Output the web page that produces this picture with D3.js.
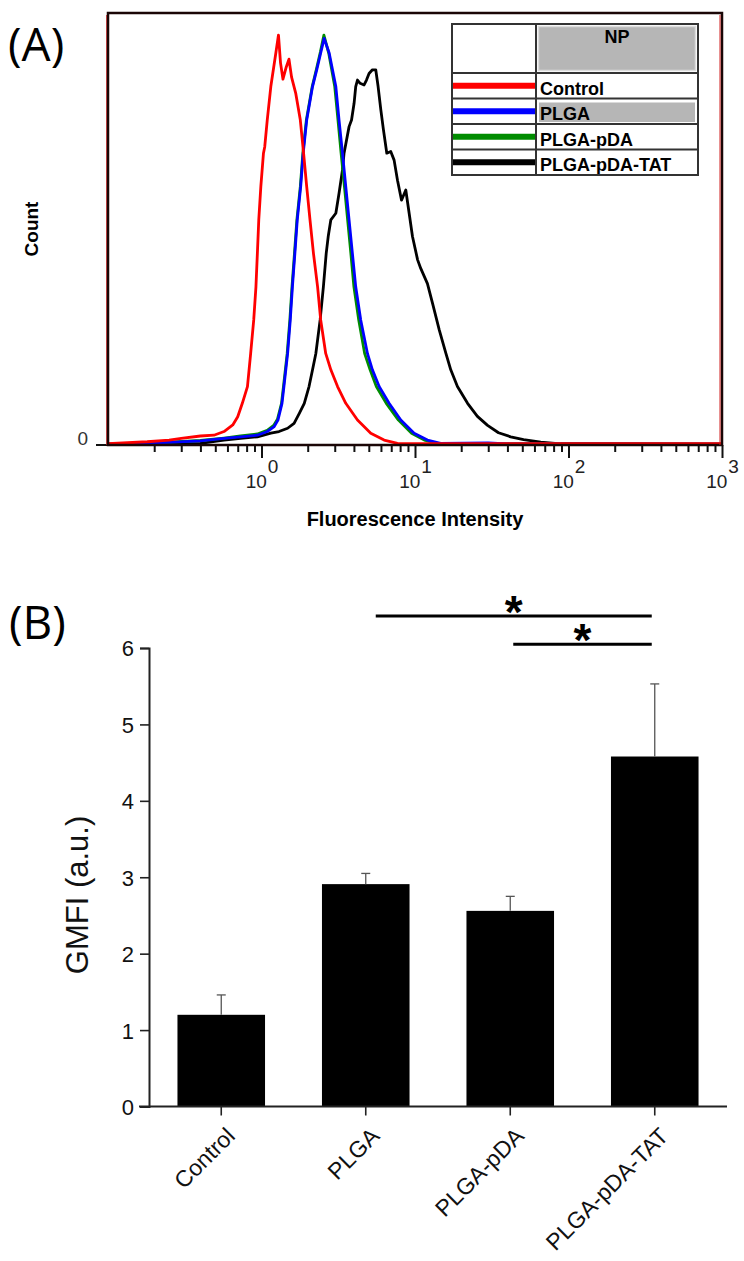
<!DOCTYPE html>
<html><head><meta charset="utf-8">
<script src="https://cdn.jsdelivr.net/npm/d3@7"></script>
<style>body{margin:0;background:#fff} svg{display:block} text{font-family:"Liberation Sans",Arial,sans-serif}</style>
</head><body>
<svg id="chart" width="744" height="1261"></svg>
<script>
// ---------- Panel A data: flow cytometry histograms [intensity, count] ----------
const seriesNames = ["Control", "PLGA", "PLGA-pDA", "PLGA-pDA-TAT"];
const seriesColors = ["#ff0000", "#0000ff", "#008c00", "#000000"];
const histControl = [[0.1,0.3],[0.18,0.8],[0.25,1.2],[0.3,1.6],[0.4,2.2],[0.49,2.4],[0.57,3.3],[0.65,4.9],[0.70,6.9],[0.75,10.2],[0.81,14.3],[0.85,22.4],[0.89,30.6],[0.92,38.7],[0.94,46.9],[0.96,55.1],[0.99,63.2],[1.03,71.4],[1.05,73.0],[1.09,79.5],[1.15,87.7],[1.24,95.9],[1.29,100.3],[1.33,93.5],[1.38,89.5],[1.45,92.5],[1.51,94.4],[1.57,90.0],[1.67,86.1],[1.79,79.5],[1.88,71.4],[1.97,63.2],[2.07,55.1],[2.18,46.9],[2.32,38.7],[2.43,30.6],[2.62,22.4],[2.83,18.4],[3.13,14.3],[3.54,10.2],[4.22,6.1],[5.15,2.9],[6.29,1.2],[7.69,0.4],[20,0.3],[1000,0.3]];
const histPLGA = [[0.1,0.2],[0.18,0.4],[0.4,1.0],[0.57,1.6],[0.73,2.0],[0.94,2.4],[1.09,3.3],[1.21,4.5],[1.28,6.1],[1.36,10.2],[1.40,14.3],[1.48,22.4],[1.54,30.6],[1.59,38.7],[1.65,46.9],[1.71,55.1],[1.80,63.2],[1.87,71.4],[1.97,79.5],[2.15,87.7],[2.29,91.8],[2.43,95.9],[2.56,99.5],[2.76,95.9],[3.05,87.7],[3.20,79.5],[3.37,71.4],[3.54,63.2],[3.72,55.1],[3.91,46.9],[4.11,38.7],[4.43,30.6],[4.90,22.4],[5.28,18.4],[5.84,14.3],[6.78,10.2],[8.08,6.1],[9.87,2.9],[12.05,1.2],[14.7,0.4],[30,0.5],[40,0.3],[1000,0.2]];
const histPLGApDA = [[0.1,0.2],[0.18,0.4],[0.4,1.1],[0.57,1.7],[0.73,2.2],[0.94,2.7],[1.09,3.6],[1.20,4.8],[1.27,6.3],[1.35,10.2],[1.39,14.3],[1.47,22.4],[1.53,30.6],[1.58,38.7],[1.64,46.9],[1.70,55.1],[1.79,63.2],[1.86,71.4],[1.96,79.5],[2.14,87.7],[2.28,92.0],[2.42,96.2],[2.55,100.3],[2.74,95.9],[3.00,87.7],[3.15,79.5],[3.30,71.4],[3.47,63.2],[3.64,55.1],[3.82,46.9],[4.00,38.7],[4.30,30.6],[4.70,22.4],[5.10,18.4],[5.60,14.3],[6.50,10.2],[7.80,6.1],[9.50,2.9],[11.5,1.2],[14.0,0.4],[1000,0.2]];
const histTAT = [[0.1,0.2],[0.4,0.4],[0.57,1.2],[0.73,1.6],[0.94,2.0],[1.15,2.9],[1.30,3.3],[1.48,4.1],[1.63,5.3],[1.76,7.7],[1.90,10.2],[2.04,14.3],[2.15,18.4],[2.26,22.4],[2.41,30.6],[2.53,38.7],[2.64,46.9],[2.72,51.0],[2.83,55.1],[3.05,56.7],[3.20,61.6],[3.37,67.3],[3.45,71.4],[3.72,77.9],[3.86,79.5],[4.01,83.6],[4.11,87.7],[4.22,89.3],[4.39,88.5],[4.66,88.1],[4.83,89.3],[5.02,90.9],[5.28,91.8],[5.55,91.8],[5.75,87.7],[5.99,82.0],[6.23,77.1],[6.55,71.4],[6.95,71.8],[7.31,69.7],[7.69,64.8],[8.17,59.9],[8.71,62.4],[9.16,56.7],[9.63,51.0],[10.4,45.3],[10.9,43.2],[12.05,39.5],[13.0,34.7],[14.4,28.1],[15.9,22.4],[17.1,18.4],[18.9,14.3],[22.0,10.2],[25.5,7.0],[29.7,4.8],[35,3.0],[42,2.0],[51,1.3],[66,0.7],[89,0.3],[1000,0.2]];
const histograms = [histControl, histPLGA, histPLGApDA, histTAT];
const xDomainA = [0.1, 1000];
const countMax = 105.7;
const majorTickValues = [1, 10, 100, 1000];
const majorTickExponents = ["0", "1", "2", "3"];
const legendHeader = "NP";
const xLabelA = "Fluorescence Intensity";
const yLabelA = "Count";

// ---------- Panel B data ----------
const categories = ["Control", "PLGA", "PLGA-pDA", "PLGA-pDA-TAT"];
const gmfiMean = [1.20, 2.91, 2.56, 4.58];
const gmfiErr = [0.26, 0.14, 0.19, 0.95];
const gmfiTicks = [0, 1, 2, 3, 4, 5, 6];
const sigPairs = [
  {from: "PLGA", to: "PLGA-pDA-TAT", level: 6.42, label: "*"},
  {from: "PLGA-pDA", to: "PLGA-pDA-TAT", level: 6.05, label: "*"}
];
const yLabelB = "GMFI (a.u.)";

const svg = d3.select("#chart");

// ================= Panel A =================
const A = {left: 108, right: 722, top: 13, bottom: 445};
const xA = d3.scaleLog().domain(xDomainA).range([A.left, A.right]);
const yA = d3.scaleLinear().domain([0, countMax]).range([A.bottom, A.top]);

svg.append("text").attr("x", 8).attr("y", 61)
  .style("font-family", "'Open Sans', 'Noto Sans', sans-serif").style("font-size", "46px").text("(A)");

const gA = svg.append("g");

// minor ticks
const minorTicks = [];
[0.1, 1, 10, 100].forEach(d => { for (let m = 2; m <= 9; m++) minorTicks.push(m * d); });
gA.append("g").attr("transform", `translate(0,${A.bottom})`)
  .call(d3.axisBottom(xA).tickValues(minorTicks).tickSize(7).tickFormat(""))
  .call(g => g.select(".domain").remove())
  .call(g => g.selectAll(".tick line").attr("stroke", "#111").attr("stroke-width", 2));
const majAxis = gA.append("g").attr("transform", `translate(0,${A.bottom})`)
  .call(d3.axisBottom(xA).tickValues(majorTickValues).tickSize(13).tickFormat(""))
  .call(g => g.select(".domain").remove())
  .call(g => g.selectAll(".tick line").attr("stroke", "#111").attr("stroke-width", 2));
majAxis.selectAll(".tick").append("text")
  .attr("y", 43).attr("x", 0).attr("fill", "#222")
  .attr("text-anchor", "middle").style("font-size", "19px")
  .each(function(d, i) {
    const t = d3.select(this);
    t.append("tspan").text("10");
    t.append("tspan").attr("dy", -15).attr("dx", 1).text(majorTickExponents[i]);
  });

// curves (drawn with clipping to frame)
svg.append("defs").append("clipPath").attr("id", "clipA")
  .append("rect").attr("x", A.left).attr("y", A.top).attr("width", A.right - A.left).attr("height", A.bottom - A.top + 1);
const line = d3.line().x(d => xA(d[0])).y(d => yA(d[1]));
const drawOrder = [3, 2, 1, 0];
gA.append("g").attr("clip-path", "url(#clipA)").selectAll("path")
  .data(drawOrder).join("path")
  .attr("d", i => line(histograms[i]))
  .attr("fill", "none").attr("stroke", i => seriesColors[i])
  .attr("stroke-width", 2.8).attr("stroke-linejoin", "round");

// axis line and frame
gA.append("line").attr("x1", A.left - 12).attr("x2", A.right).attr("y1", A.bottom).attr("y2", A.bottom)
  .attr("stroke", "#111").attr("stroke-width", 2);
gA.append("rect").attr("x", A.left).attr("y", A.top).attr("width", A.right - A.left).attr("height", A.bottom - A.top)
  .attr("fill", "none").attr("stroke", "#1a0606").attr("stroke-width", 2.5);
gA.append("line").attr("x1", A.right - 2).attr("x2", A.right - 2).attr("y1", A.top + 2).attr("y2", A.bottom)
  .attr("stroke", "#d02020").attr("stroke-width", 1);
gA.append("line").attr("x1", A.left - 1.5).attr("x2", A.left - 1.5).attr("y1", A.top + 2).attr("y2", A.bottom)
  .attr("stroke", "#b02020").attr("stroke-width", 0.8);

gA.append("text").attr("x", 88).attr("y", yA(0)).attr("text-anchor", "end")
  .attr("fill", "#333").style("font-size", "19px").text("0");
gA.append("text").attr("transform", `translate(38,${(A.top + A.bottom) / 2}) rotate(-90)`)
  .attr("text-anchor", "middle").style("font-size", "19px").style("font-weight", "bold").text(yLabelA);
gA.append("text").attr("x", 415).attr("y", 526).attr("text-anchor", "middle")
  .style("font-size", "20px").style("font-weight", "bold").text(xLabelA);

// legend table
const L = {x: 452, y: 24, w: 246, div: 84, headH: 49, rowH: 25.5};
const gL = gA.append("g");
gL.append("rect").attr("x", L.x).attr("y", L.y).attr("width", L.w).attr("height", L.headH + L.rowH * 4)
  .attr("fill", "#fff");
gL.append("rect").attr("x", L.x + L.div + 2.5).attr("y", L.y + 2.5).attr("width", L.w - L.div - 5).attr("height", L.headH - 5)
  .attr("fill", "#b6b6b6").attr("stroke", "#dcdcdc").attr("stroke-width", 1.5);
gL.append("text").attr("x", L.x + L.div + (L.w - L.div) / 2).attr("y", L.y + 19)
  .attr("text-anchor", "middle").style("font-size", "18px").style("font-weight", "bold").text(legendHeader);
seriesNames.forEach((name, i) => {
  const ry = L.y + L.headH + i * L.rowH;
  if (i === 1) {
    gL.append("rect").attr("x", L.x + L.div + 3).attr("y", ry + 4).attr("width", L.w - L.div - 6).attr("height", L.rowH - 6)
      .attr("fill", "#b6b6b6");
  }
  gL.append("line").attr("x1", L.x).attr("x2", L.x + L.div - 1).attr("y1", ry + L.rowH / 2).attr("y2", ry + L.rowH / 2)
    .attr("stroke", seriesColors[i]).attr("stroke-width", 6);
  gL.append("text").attr("x", L.x + L.div + 4).attr("y", ry + L.rowH - 4)
    .style("font-size", "18px").style("font-weight", "bold").text(name);
  gL.append("line").attr("x1", L.x).attr("x2", L.x + L.w).attr("y1", ry).attr("y2", ry)
    .attr("stroke", "#333").attr("stroke-width", 2);
});
gL.append("line").attr("x1", L.x + L.div).attr("x2", L.x + L.div).attr("y1", L.y).attr("y2", L.y + L.headH + 4 * L.rowH)
  .attr("stroke", "#333").attr("stroke-width", 2);
gL.append("rect").attr("x", L.x).attr("y", L.y).attr("width", L.w).attr("height", L.headH + L.rowH * 4)
  .attr("fill", "none").attr("stroke", "#333").attr("stroke-width", 2);

// ================= Panel B =================
const B = {left: 149, right: 727, top: 648, bottom: 1106.5};
const xB = d3.scaleBand().domain(categories).range([B.left, B.right]).paddingInner(0.394).paddingOuter(0.197);
const yB = d3.scaleLinear().domain([0, 6]).range([B.bottom, B.top]);

svg.append("text").attr("x", 9).attr("y", 639)
  .style("font-family", "'Open Sans', 'Noto Sans', sans-serif").style("font-size", "46px").text("(B)");

const gB = svg.append("g");
gB.selectAll("rect.bar").data(categories).join("rect").attr("class", "bar")
  .attr("x", d => xB(d)).attr("width", xB.bandwidth())
  .attr("y", (d, i) => yB(gmfiMean[i])).attr("height", (d, i) => yB(0) - yB(gmfiMean[i]))
  .attr("fill", "#000");

// error bars (upper only)
const eb = gB.selectAll("g.err").data(categories).join("g").attr("class", "err");
eb.append("line").attr("x1", d => xB(d) + xB.bandwidth() / 2).attr("x2", d => xB(d) + xB.bandwidth() / 2)
  .attr("y1", (d, i) => yB(gmfiMean[i])).attr("y2", (d, i) => yB(gmfiMean[i] + gmfiErr[i]))
  .attr("stroke", "#555").attr("stroke-width", 1.3);
eb.append("line").attr("x1", d => xB(d) + xB.bandwidth() / 2 - 4.5).attr("x2", d => xB(d) + xB.bandwidth() / 2 + 4.5)
  .attr("y1", (d, i) => yB(gmfiMean[i] + gmfiErr[i])).attr("y2", (d, i) => yB(gmfiMean[i] + gmfiErr[i]))
  .attr("stroke", "#555").attr("stroke-width", 1.3);

// y axis
gB.append("g").attr("transform", `translate(${B.left},0)`)
  .call(d3.axisLeft(yB).tickValues(gmfiTicks).tickSize(9).tickPadding(6).tickFormat(d3.format("d")))
  .call(g => g.select(".domain").attr("stroke", "#222").attr("stroke-width", 2))
  .call(g => g.selectAll(".tick line").attr("stroke", "#222").attr("stroke-width", 1.6))
  .call(g => g.selectAll(".tick text").attr("fill", "#111").style("font-size", "22px").attr("dy", "0.36em")
    .style("font-family", "'Liberation Sans',Arial,sans-serif"));

// x axis
gB.append("g").attr("transform", `translate(0,${B.bottom})`)
  .call(d3.axisBottom(xB).tickSize(9).tickFormat(""))
  .call(g => g.select(".domain").remove())
  .call(g => g.selectAll(".tick line").attr("stroke", "#222").attr("stroke-width", 1.6));
gB.append("line").attr("x1", B.left - 10).attr("x2", B.right).attr("y1", B.bottom).attr("y2", B.bottom)
  .attr("stroke", "#222").attr("stroke-width", 2);
gB.selectAll("text.cat").data(categories).join("text").attr("class", "cat")
  .attr("transform", d => `translate(${xB(d) + xB.bandwidth() / 2 + 15},${B.bottom + 31}) rotate(-45)`)
  .attr("text-anchor", "end").attr("fill", "#111").style("font-size", "23px").text(d => d);

// y label
gB.append("text").attr("transform", `translate(88,895) rotate(-90)`)
  .attr("text-anchor", "middle").attr("fill", "#111").style("font-size", "31px").text(yLabelB);

// significance bars
const center = c => xB(c) + xB.bandwidth() / 2;
sigPairs.forEach((s, i) => {
  const x1 = center(s.from) + (i === 0 ? 10 : 3), x2 = center(s.to) - 3, y = yB(s.level);
  gB.append("line").attr("x1", x1).attr("x2", x2).attr("y1", y).attr("y2", y)
    .attr("stroke", "#000").attr("stroke-width", 3);
  gB.append("text").attr("x", (x1 + x2) / 2).attr("y", y + 12).attr("text-anchor", "middle")
    .style("font-size", "46px").style("font-weight", "bold").text(s.label);
});
</script>
</body></html>
